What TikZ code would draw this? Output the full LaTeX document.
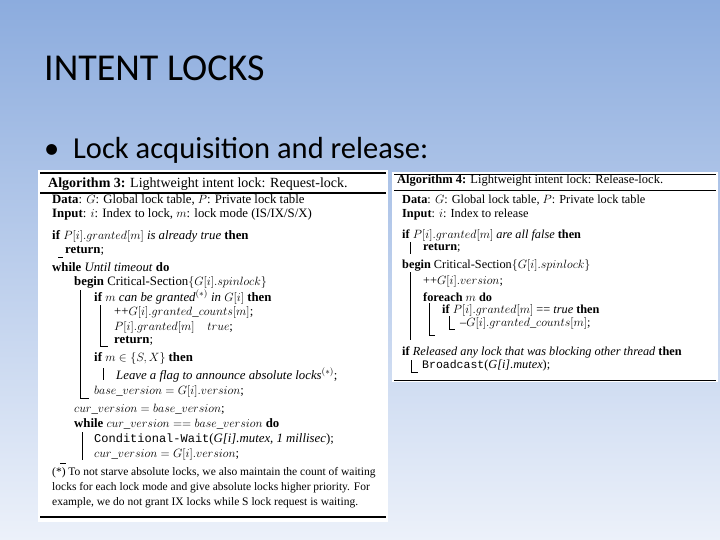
\documentclass[tikz,border=0pt]{standalone}
\usepackage{fontspec}
\setmainfont{Liberation Serif}
\newfontfamily\slidefont{Carlito}
\newfontfamily\codefont{Liberation Mono}
\begin{document}
\begin{tikzpicture}[x=1pt,y=-1pt,
  ln/.style={anchor=west,inner sep=0pt,font=\fontsize{12.8}{14}\selectfont},
  rn/.style={anchor=west,inner sep=0pt,font=\fontsize{12.3}{14}\selectfont},
  bar/.style={line width=0.7pt},
  rulel/.style={line width=1.4pt}]
\useasboundingbox (0,0) rectangle (720,540);
\shade[top color={rgb,255:red,140;green,172;blue,222},bottom color={rgb,255:red,236;green,241;blue,250}] (0,0) rectangle (720,540);
\node[anchor=west,inner sep=0pt,font=\slidefont\fontsize{38}{42}\selectfont] (title) at (44,68) {INTENT LOCKS};
\node[anchor=west,inner sep=0pt,font=\slidefont\fontsize{30.5}{34}\selectfont] (bul) at (44,150) {\textbullet\ \ Lock acquisition and release:};
% left box
\fill[white] (38,170) rectangle (388,522);
\draw[rulel] (40,173) -- (386,173);
\draw[rulel] (40,193) -- (386,193);
\draw[rulel] (40,517) -- (386,517);
\node[ln,font=\fontsize{14}{16}\selectfont] (a0) at (48,184) {\textbf{Algorithm 3:} Lightweight intent lock: Request-lock.};
\node[ln] (a1) at (52,200) {\textbf{Data}: $G$: Global lock table, $P$: Private lock table};
\node[ln] (a2) at (52,214) {\textbf{Input}: $i$: Index to lock, $m$: lock mode (IS/IX/S/X)};
\node[ln] (a3) at (52,236) {\textbf{if} $P[i].granted[m]$ \textit{is already true} \textbf{then}};
\node[ln] (a4) at (65,251) {\textbf{return};};
\node[ln] (a5) at (52,267) {\textbf{while} \textit{Until timeout} \textbf{do}};
\node[ln] (a6) at (74,282) {\textbf{begin} Critical-Section$\{G[i].spinlock\}$};
\node[ln] (a7) at (94,297) {\textbf{if} \textit{$m$ can be granted$^{(*)}$ in $G[i]$} \textbf{then}};
\node[ln] (a8) at (114,312) {++$G[i].granted\_counts[m]$;};
\node[ln] (a9) at (114,327) {$P[i].granted[m] \quad true$;};
\node[ln] (a10) at (114,341) {\textbf{return};};
\node[ln] (a11) at (94,358) {\textbf{if} $m \in \{S,X\}$ \textbf{then}};
\node[ln] (a12) at (116,375) {\textit{Leave a flag to announce absolute locks$^{(*)}$};};
\node[ln] (a13) at (94,391) {$base\_version = G[i].version$;};
\node[ln] (a14) at (74,409) {$cur\_version = base\_version$;};
\node[ln] (a15) at (74,424) {\textbf{while} $cur\_version == base\_version$ \textbf{do}};
\node[ln] (a16) at (94,439) {{\codefont\fontsize{12}{14}\selectfont Conditional-Wait}(\textit{G[i].mutex, 1 millisec});};
\node[ln] (a17) at (94,454) {$cur\_version = G[i].version$;};
\node[ln,align=left,anchor=north west,font=\fontsize{11.5}{15}\selectfont] (a18) at (52,467) {(*) To not starve absolute locks, we also maintain the count of waiting\\locks for each lock mode and give absolute locks higher priority. For\\example, we do not grant IX locks while S lock request is waiting.};
\draw[bar] (58,257) -- (63,257);
\draw[bar] (80,290) -- (80,398) -- (89,398);
\draw[bar] (100,305) -- (100,346) -- (108,346);
\draw[bar] (103,368) -- (103,380);
\draw[bar] (82,432) -- (82,460);
\draw[bar] (60,463) -- (66,463);
% right box
\fill[white] (392,172) rectangle (718,382);
\draw[line width=0.8pt] (394,174) -- (716,174);
\draw[line width=0.8pt] (394,190) -- (716,190);
\draw[line width=0.8pt] (394,380) -- (716,380);
\node[rn,font=\fontsize{12.5}{14}\selectfont] (b0) at (397,181) {\textbf{Algorithm 4:} Lightweight intent lock: Release-lock.};
\node[rn] (b1) at (402,200) {\textbf{Data}: $G$: Global lock table, $P$: Private lock table};
\node[rn] (b2) at (402,215) {\textbf{Input}: $i$: Index to release};
\node[rn] (b3) at (402,235) {\textbf{if} $P[i].granted[m]$ \textit{are all false} \textbf{then}};
\node[rn] (b4) at (423,248) {\textbf{return};};
\node[rn] (b5) at (402,265) {\textbf{begin} Critical-Section$\{G[i].spinlock\}$};
\node[rn] (b6) at (423,281) {++$G[i].version$;};
\node[rn] (b7) at (423,297) {\textbf{foreach} $m$ \textbf{do}};
\node[rn] (b8) at (442,310) {\textbf{if} $P[i].granted[m]$ == \textit{true} \textbf{then}};
\node[rn] (b9) at (460,323) {--$G[i].granted\_counts[m]$;};
\node[rn] (b10) at (402,352) {\textbf{if} \textit{Released any lock that was blocking other thread} \textbf{then}};
\node[rn] (b11) at (422,366) {{\codefont\fontsize{11.5}{14}\selectfont Broadcast}(\textit{G[i].mutex});};
\draw[bar] (410,242) -- (410,254);
\draw[bar] (410,272) -- (410,340);
\draw[bar] (429,303) -- (429,335) -- (435,335);
\draw[bar] (449,316) -- (449,329) -- (455,329);
\draw[bar] (411,360) -- (411,372) -- (418,372);
\end{tikzpicture}
\end{document}
